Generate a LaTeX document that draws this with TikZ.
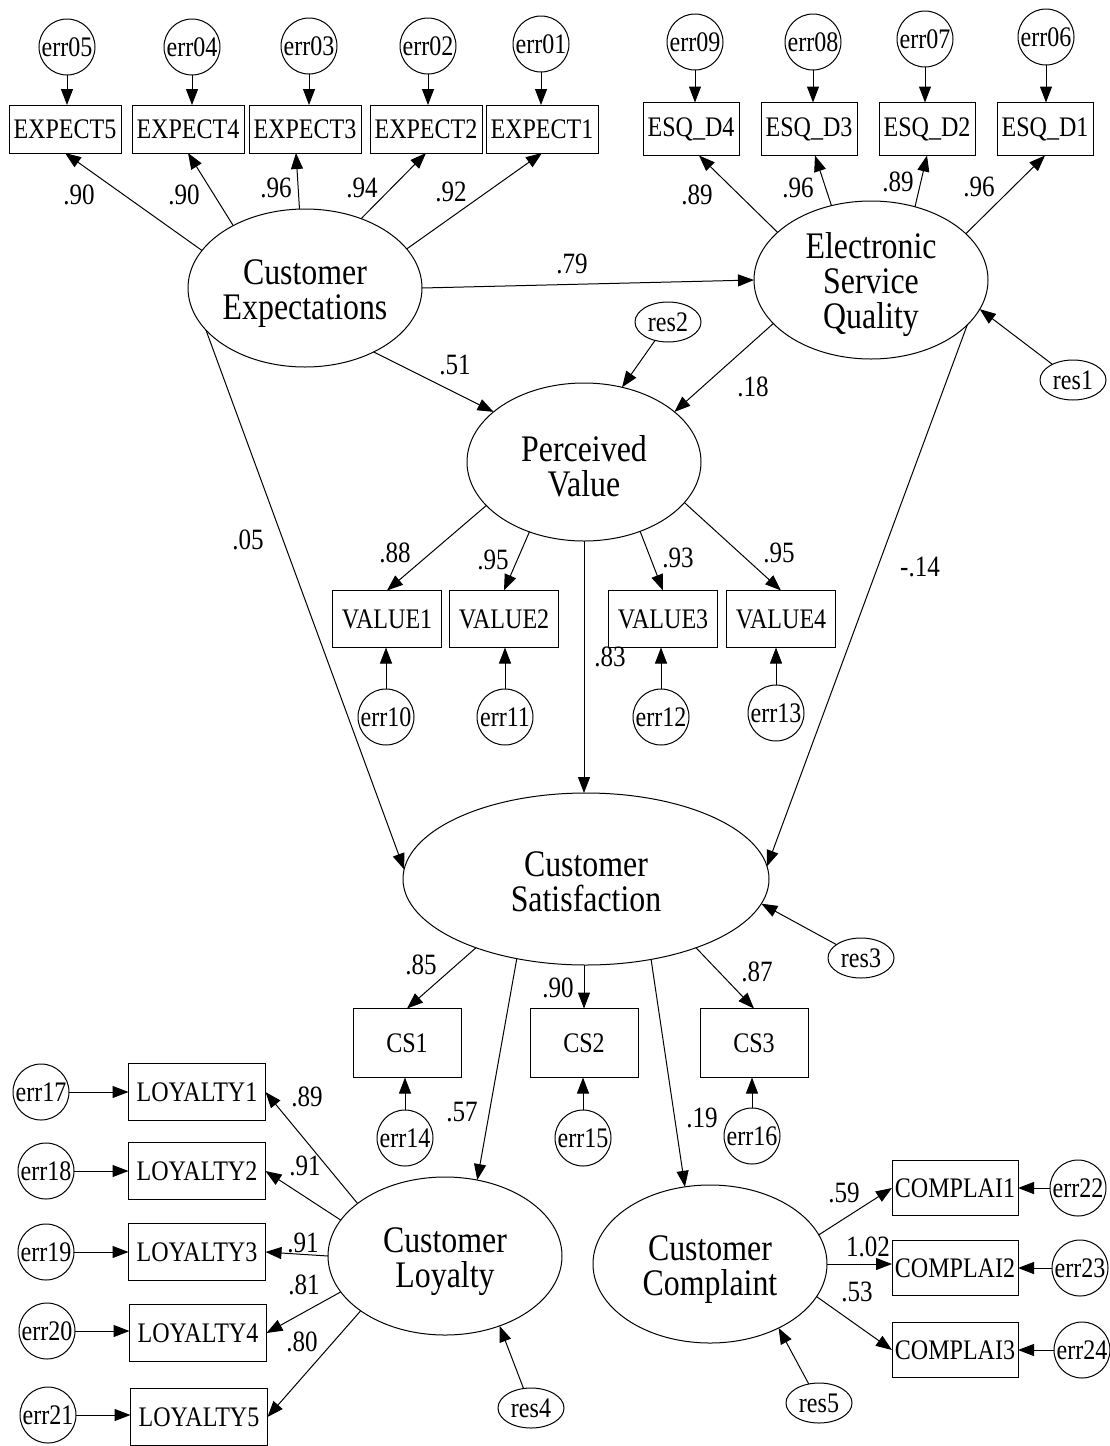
\documentclass[tikz,border=0pt]{standalone}
\usepackage{fontspec}
\setmainfont{Liberation Serif}
% a narrowed serif, set large, gives the tall lettering of the diagram
\newfontfamily\tallserif[FakeStretch=0.85]{Liberation Serif}
\newcommand\latfont{\tallserif\fontsize{37.5}{35}\selectfont\lineskiplimit=-100pt\lineskip=0pt\relax}
\newcommand\smallfont{\tallserif\fontsize{28.3}{30}\selectfont}
\newcommand\coeffont{\tallserif\fontsize{29.5}{30}\selectfont}
\usetikzlibrary{shapes.geometric,arrows.meta}
\begin{document}
\begin{tikzpicture}[x=1pt,y=-1pt,
  every node/.style={inner sep=0pt, outer sep=0pt},
  lat/.style={ellipse, draw, line width=1pt, minimum width=234pt, minimum height=158pt},
  lattext/.style={align=center, font=\latfont},
  ind/.style={rectangle, draw, line width=1pt, font=\smallfont},
  expbox/.style={ind, minimum width=112pt, minimum height=48pt},
  esqbox/.style={ind, minimum width=96pt, minimum height=53pt},
  valbox/.style={ind, minimum width=109pt, minimum height=57pt},
  csbox/.style={ind, minimum width=108pt, minimum height=69pt},
  loybox/.style={ind, minimum width=137pt, minimum height=57pt},
  cmpbox/.style={ind, minimum width=126pt, minimum height=55pt},
  errc/.style={circle, draw, line width=1pt, minimum size=56pt, font=\smallfont},
  resc/.style={ellipse, draw, line width=1pt, minimum width=66pt, minimum height=40pt,
    font=\smallfont},
  coef/.style={font=\coeffont},
  arr/.style={line width=1pt, -{Triangle[length=16pt,width=12pt]}},
]
\fill[white] (0,0) rectangle (1110,1446);
\useasboundingbox (0,0) rectangle (1110,1446);

% ---------- latent variables (outline, then its name) ----------
\node[lat] (ce) at (305,288) {};
\node[lattext] (ce-t) at ([yshift=-6pt]ce.center) {Customer\\Expectations};
\node[lat] (esq) at (871,280) {};
\node[lattext] (esq-t) at ([yshift=-5pt]esq.center) {Electronic\\Service\\Quality};
\node[lat] (pv) at (584,462) {};
\node[lattext] (pv-t) at ([yshift=-4pt]pv.center) {Perceived\\Value};
\node[lat, minimum width=366pt, minimum height=172pt] (cs) at (586,879) {};
\node[lattext] (cs-t) at ([yshift=-3pt]cs.center) {Customer\\Satisfaction};
\node[lat] (cl) at (445,1256) {};
\node[lattext] (cl-t) at ([yshift=-6pt]cl.center) {Customer\\Loyalty};
\node[lat] (cc) at (710,1264) {};
\node[lattext] (cc-t) at ([yshift=-6pt]cc.center) {Customer\\Complaint};

% ---------- residuals ----------
\node[resc] (res1) at (1073,380) {res1};
\node[resc] (res2) at (668,322) {res2};
\node[resc] (res3) at (861,958) {res3};
\node[resc] (res4) at (531,1408) {res4};
\node[resc] (res5) at (819,1403) {res5};

% ---------- expectation indicators ----------
\node[expbox] (e5) at (65,129) {EXPECT5};
\node[expbox] (e4) at (188,129) {EXPECT4};
\node[expbox] (e3) at (305,129) {EXPECT3};
\node[expbox] (e2) at (426,129) {EXPECT2};
\node[expbox] (e1) at (542,129) {EXPECT1};
\node[errc] (err05) at (67,47) {err05};
\node[errc] (err04) at (192,47) {err04};
\node[errc] (err03) at (309,46) {err03};
\node[errc] (err02) at (428,46) {err02};
\node[errc] (err01) at (541,44) {err01};

% ---------- e-service quality indicators ----------
\node[esqbox] (d4) at (691,129) {ESQ\_D4};
\node[esqbox] (d3) at (809,129) {ESQ\_D3};
\node[esqbox] (d2) at (927,129) {ESQ\_D2};
\node[esqbox] (d1) at (1045,129) {ESQ\_D1};
\node[errc] (err09) at (695,42) {err09};
\node[errc] (err08) at (813,42) {err08};
\node[errc] (err07) at (925,39) {err07};
\node[errc] (err06) at (1046,37) {err06};

% ---------- value indicators ----------
\node[valbox] (v1) at (387,619) {VALUE1};
\node[valbox] (v2) at (504,619) {VALUE2};
\node[valbox] (v3) at (663,619) {VALUE3};
\node[valbox] (v4) at (781,619) {VALUE4};
\node[errc] (err10) at (386,717) {err10};
\node[errc] (err11) at (505,717) {err11};
\node[errc] (err12) at (661,717) {err12};
\node[errc] (err13) at (776,713) {err13};

% ---------- satisfaction indicators ----------
\node[csbox] (s1) at (407,1043) {CS1};
\node[csbox] (s2) at (584,1043) {CS2};
\node[csbox] (s3) at (754,1043) {CS3};
\node[errc] (err14) at (405,1138) {err14};
\node[errc] (err15) at (583,1138) {err15};
\node[errc] (err16) at (752,1136) {err16};

% ---------- loyalty indicators ----------
\node[loybox] (y1) at (197,1092) {LOYALTY1};
\node[loybox] (y2) at (197,1171) {LOYALTY2};
\node[loybox] (y3) at (197,1252) {LOYALTY3};
\node[loybox] (y4) at (198,1333) {LOYALTY4};
\node[loybox] (y5) at (199,1417) {LOYALTY5};
\node[errc] (err17) at (41,1092) {err17};
\node[errc] (err18) at (46,1171) {err18};
\node[errc] (err19) at (46,1252) {err19};
\node[errc] (err20) at (47,1331) {err20};
\node[errc] (err21) at (48,1415) {err21};

% ---------- complaint indicators ----------
\node[cmpbox] (c1) at (955,1188) {COMPLAI1};
\node[cmpbox] (c2) at (955,1268) {COMPLAI2};
\node[cmpbox] (c3) at (955,1350) {COMPLAI3};
\node[errc] (err22) at (1078,1188) {err22};
\node[errc] (err23) at (1080,1268) {err23};
\node[errc] (err24) at (1082,1350) {err24};

% ---------- error terms to indicators ----------
\foreach \e/\b in {err05/e5, err04/e4, err03/e3, err02/e2, err01/e1,
                   err09/d4, err08/d3, err07/d2, err06/d1}
  \draw[arr] (\e.south) -- (\e.south |- \b.north);
\foreach \e/\b in {err10/v1, err11/v2, err12/v3, err13/v4,
                   err14/s1, err15/s2, err16/s3}
  \draw[arr] (\e.north) -- (\e.north |- \b.south);
\foreach \e/\b in {err17/y1, err18/y2, err19/y3, err20/y4, err21/y5}
  \draw[arr] (\e.east) -- (\e.east -| \b.west);
\foreach \e/\b in {err22/c1, err23/c2, err24/c3}
  \draw[arr] (\e.west) -- (\e.west -| \b.east);

% ---------- loadings ----------
\draw[arr] (ce.160.7) -- (e5.south);
\draw[arr] (ce.139) -- (e4.south);
\draw[arr] (ce.94) -- ([xshift=-9pt]e3.south);
\draw[arr] (ce.51) -- (e2.south);
\draw[arr] (ce.21.4) -- (e1.south);

\draw[arr] (esq.153.7) -- ([xshift=8pt]d4.south);
\draw[arr] (esq.118.7) -- ([xshift=6pt]d3.south);
\draw[arr] (esq.59.3) -- (d2.south);
\draw[arr] (esq.26) -- (d1.south);

\draw[arr] (pv.-156) -- (v1.north);
\draw[arr] (pv.-128.8) -- (v2.north);
\draw[arr] (pv.-51) -- (v3.north);
\draw[arr] (pv.-22) -- (v4.north);

\draw[arr] (cs.-148.5) -- (s1.north);
\draw[arr] (s2.north |- cs.south) -- (s2.north);
\draw[arr] (cs.-32.6) -- (s3.north);

\draw[arr] (cl.149) -- (y1.east);
\draw[arr] (cl.161) -- (y2.east);
\draw[arr] (cl.180) -- (y3.east);
\draw[arr] (cl.-161.6) -- (y4.east);
\draw[arr] (cl.-147.5) -- (y5.east);

\draw[arr] (cc.15.7) -- (c1.west);
\draw[arr] (cc.east) -- (cc.east -| c2.west);
\draw[arr] (cc.-17.5) -- (c3.west);

% ---------- structural paths ----------
\draw[arr] (ce.east) -- (esq.west);
\draw[arr] (ce.-43.7) -- (pv.151);
\draw[arr] (esq.-156) -- (pv.29.7);
\draw[arr] (ce.-157.6) -- (cs.177);
\draw[arr] (pv.south) -- (pv.south |- cs.north);
\draw[arr] (esq.-25) -- (cs.4.4);
\draw[arr] (cs.-131) -- (cl.67.7);
\draw[arr] (cs.-51.5) -- (cc.108);

% ---------- residuals to latent variables ----------
\draw[arr] (res1) -- (esq.-15);
\draw[arr] (res2) -- (pv.63);
\draw[arr] (res3) -- (cs.-8);
\draw[arr] (res4) -- (cl.-52);
\draw[arr] (res5) -- (cc.-43);

% ---------- coefficients ----------
\node[coef] (k1) at (79,195) {.90};
\node[coef] (k2) at (184,195) {.90};
\node[coef] (k3) at (276,188) {.96};
\node[coef] (k4) at (362,188) {.94};
\node[coef] (k5) at (451,192) {.92};
\node[coef] (k6) at (697,195) {.89};
\node[coef] (k7) at (798,188) {.96};
\node[coef] (k8) at (898,182) {.89};
\node[coef] (k9) at (979,187) {.96};
\node[coef] (k10) at (572,264) {.79};
\node[coef] (k11) at (455,365) {.51};
\node[coef] (k12) at (753,387) {.18};
\node[coef] (k13) at (395,553) {.88};
\node[coef] (k14) at (493,560) {.95};
\node[coef] (k15) at (678,558) {.93};
\node[coef] (k16) at (779,553) {.95};
\node[coef] (k17) at (610,657) {.83};
\node[coef] (k18) at (248,540) {.05};
\node[coef] (k19) at (920,567) {-.14};
\node[coef] (k20) at (421,965) {.85};
\node[coef] (k21) at (558,988) {.90};
\node[coef] (k22) at (757,972) {.87};
\node[coef] (k23) at (462,1112) {.57};
\node[coef] (k24) at (702,1118) {.19};
\node[coef] (k25) at (307,1097) {.89};
\node[coef] (k26) at (305,1166) {.91};
\node[coef] (k27) at (303,1243) {.91};
\node[coef] (k28) at (304,1285) {.81};
\node[coef] (k29) at (302,1342) {.80};
\node[coef] (k30) at (844,1193) {.59};
\node[coef] (k31) at (868,1247) {1.02};
\node[coef] (k32) at (857,1292) {.53};
\end{tikzpicture}
\end{document}
